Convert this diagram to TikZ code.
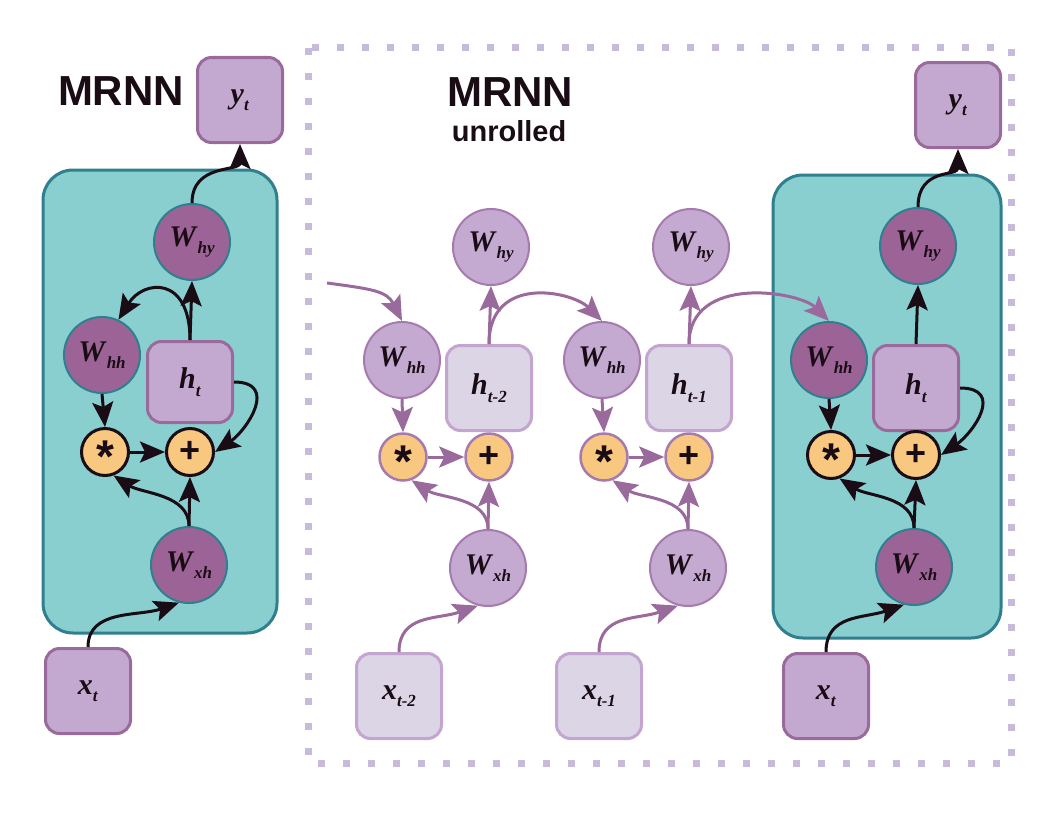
\documentclass[tikz,border=0pt]{standalone}
\usepackage{fontspec}
\setmainfont{Liberation Serif}
\newfontfamily\titlefont{Liberation Sans}
\usetikzlibrary{arrows.meta}
\definecolor{tealfill}{RGB}{137,207,207}
\definecolor{tealdraw}{RGB}{47,127,143}
\definecolor{dpurple}{RGB}{156,100,150}
\definecolor{lpurple}{RGB}{195,169,208}
\definecolor{pborder}{RGB}{155,106,156}
\definecolor{mpurple}{RGB}{196,170,209}
\definecolor{mborder}{RGB}{166,122,174}
\definecolor{pale}{RGB}{220,213,230}
\definecolor{paleborder}{RGB}{195,165,208}
\definecolor{opfill}{RGB}{249,200,128}
\definecolor{dotcol}{RGB}{200,186,218}
\definecolor{ink}{RGB}{25,12,20}
\newcommand{\lab}[2]{\textbf{\textit{#1}}\raisebox{-0.55ex}{\fontsize{17}{17}\selectfont\textbf{\textit{#2}}}}
\newcommand{\mulsign}{\raisebox{-0.56em}[0pt][0pt]{\fontsize{46}{46}\selectfont*}}
\tikzset{
        cell/.style={rounded corners=30pt, fill=tealfill, draw=tealdraw, line width=3pt},
        wdark/.style={circle, minimum size=76pt, inner sep=0pt, fill=dpurple, draw=tealdraw, line width=2pt, text=ink, font=\fontsize{30}{30}\selectfont},
        wlight/.style={wdark, fill=mpurple, draw=mborder},
        vecbox/.style={rounded corners=14pt, minimum width=85pt, minimum height=85pt, inner sep=0pt, fill=lpurple, draw=pborder, line width=3pt, text=ink, font=\fontsize{30}{30}\selectfont},
        vecpale/.style={vecbox, fill=pale, draw=paleborder},
        opdark/.style={circle, minimum size=47pt, inner sep=0pt, fill=opfill, draw=ink, line width=3pt, text=ink, font=\titlefont\bfseries\fontsize{36}{36}\selectfont},
        oppale/.style={opdark, draw=mborder, line width=2.5pt},
        flow/.style={line width=3pt, draw=ink, -{Stealth[length=25pt,width=21pt,inset=5pt]}},
        pflow/.style={flow, draw=pborder},
        title/.style={text=ink, font=\titlefont\bfseries\fontsize{42}{42}\selectfont},
        subtitle/.style={text=ink, font=\titlefont\bfseries\fontsize{29}{29}\selectfont},
        dotframe/.style={draw=dotcol, line width=7pt, dash pattern=on 7pt off 18pt}
          }
\begin{document}
\begin{tikzpicture}[x=1pt,y=-1pt]
        \useasboundingbox (0,0) rectangle (1056,816);
        \draw[dotframe] (308,48) rectangle (1011,763);
        \node[title] (mrnnL) at (121,91) {MRNN};
        \node[title] (mrnnM) at (510,92) {MRNN};
        \node[subtitle] (unrl) at (509,131) {unrolled};
        % folded cell
        \draw[cell] (43,170) rectangle (277,633);
        \node[vecbox] (yL) at (240,100) {\lab{y}{t}};
        \node[wdark] (whyL) at (192,242) {\lab{W}{hy}};
        \node[wdark] (whhL) at (102,355) {\lab{W}{hh}};
        \node[vecbox, minimum height=81pt] (hL) at (190,382) {\lab{h}{t}};
        \node[opdark] (mulL) at (105,452) {\mulsign};
        \node[opdark] (addL) at (190,452) {+};
        \node[wdark] (wxhL) at (189,565) {\lab{W}{xh}};
        \node[vecbox] (xL) at (88,691) {\lab{x}{t}};
        \draw[flow] (xL.north) .. controls +(0,-38) and +(-40,14) .. (wxhL.-105);
        \draw[flow] (wxhL.north) -- (addL.south);
        \draw[flow] (wxhL.north) .. controls +(0,-32) and +(28,18) .. (mulL.-70);
        \draw[flow] (mulL.east) -- (addL.west);
        \draw[flow] (whhL.south) -- (mulL.north);
        \draw[flow] (hL.east) .. controls +(45,0) and +(32,-22) .. (addL.east);
        \draw[flow] (hL.north) -- (whyL.south);
        \draw[flow] (hL.north) .. controls +(0,-65) and +(25,-40) .. (whhL.65);
        \draw[flow] (whyL.north) .. controls +(0,-40) and +(0,28) .. (yL.south);
        % unrolled steps
        \coordinate (entry) at (327,283);
        \node[wlight] (whyA) at (491,247) {\lab{W}{hy}};
        \node[wlight] (whhA) at (402,360) {\lab{W}{hh}};
        \node[vecpale] (hA) at (489,388) {\lab{h}{t-2}};
        \node[oppale] (mulA) at (403,457) {\mulsign};
        \node[oppale] (addA) at (489,457) {+};
        \node[wlight] (wxhA) at (488,568) {\lab{W}{xh}};
        \node[vecpale] (xA) at (399,696) {\lab{x}{t-2}};
        \node[wlight] (whyB) at (691,247) {\lab{W}{hy}};
        \node[wlight] (whhB) at (602,360) {\lab{W}{hh}};
        \node[vecpale] (hB) at (689,388) {\lab{h}{t-1}};
        \node[oppale] (mulB) at (604,457) {\mulsign};
        \node[oppale] (addB) at (689,457) {+};
        \node[wlight] (wxhB) at (688,568) {\lab{W}{xh}};
        \node[vecpale] (xB) at (599,696) {\lab{x}{t-1}};
        % last step
        \draw[cell] (773,175) rectangle (1001,638);
        \node[vecbox] (yR) at (958,105) {\lab{y}{t}};
        \node[wdark] (whyR) at (918,246) {\lab{W}{hy}};
        \node[wdark] (whhR) at (829,360) {\lab{W}{hh}};
        \node[vecbox] (hR) at (916,388) {\lab{h}{t}};
        \node[opdark] (mulR) at (831,455) {\mulsign};
        \node[opdark] (addR) at (916,455) {+};
        \node[wdark] (wxhR) at (914,567) {\lab{W}{xh}};
        \node[vecbox] (xR) at (826,696) {\lab{x}{t}};
        \draw[pflow] (entry) .. controls +(45,6) and +(-15,-30) .. (whhA.north);
        \foreach \s/\n in {A/B, B/R}{
          \draw[pflow] (x\s.north) .. controls +(0,-38) and +(-40,14) .. (wxh\s.-105);
          \draw[pflow] (wxh\s.north) -- (add\s.south);
          \draw[pflow] (wxh\s.north) .. controls +(0,-32) and +(28,18) .. (mul\s.-70);
          \draw[pflow] (mul\s.east) -- (add\s.west);
          \draw[pflow] (whh\s.south) -- (mul\s.north);
          \draw[pflow] (h\s.north) -- (why\s.south);
          \draw[pflow] (h\s.north) .. controls +(0,-70) and +(-30,-30) .. (whh\n.north);
        }
        \draw[flow] (xR.north) .. controls +(0,-38) and +(-40,14) .. (wxhR.-105);
        \draw[flow] (wxhR.north) -- (addR.south);
        \draw[flow] (wxhR.north) .. controls +(0,-32) and +(28,18) .. (mulR.-70);
        \draw[flow] (mulR.east) -- (addR.west);
        \draw[flow] (whhR.south) -- (mulR.north);
        \draw[flow] (hR.east) .. controls +(45,0) and +(32,-22) .. (addR.east);
        \draw[flow] (hR.north) -- (whyR.south);
        \draw[flow] (whyR.north) .. controls +(0,-40) and +(0,28) .. (yR.south);
      \end{tikzpicture}
\end{document}
